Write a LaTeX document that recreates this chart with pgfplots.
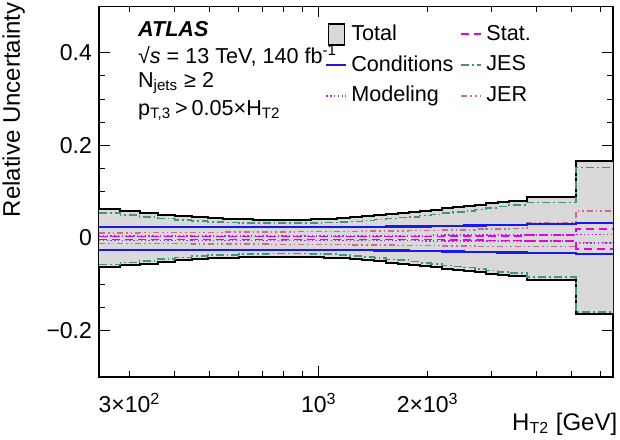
\documentclass[border=0pt]{standalone}
\usepackage{fontspec}
\setmainfont{Liberation Sans}
\usepackage{pgfplots}
\pgfplotsset{compat=1.18}
\usepackage{pgfplotstable}
\usepgfplotslibrary{fillbetween}

\definecolor{bandgray}{RGB}{217,217,217}
\definecolor{condblue}{RGB}{25,25,235}
\definecolor{modpurple}{RGB}{150,60,220}
\definecolor{statmag}{RGB}{230,0,230}
\definecolor{jesteal}{RGB}{60,150,130}
\definecolor{jerrose}{RGB}{200,110,140}

\newcommand\txtfont{\fontsize{10.8}{12}\selectfont}

\pgfplotsset{
  condline/.style={color=condblue, line width=1.15pt},
  modline/.style={color=modpurple, line width=0.8pt, dash pattern=on 0.7pt off 1.2pt},
  statline/.style={color=statmag, line width=0.8pt, dash pattern=on 4pt off 2.5pt},
  jesline/.style={color=jesteal, line width=0.8pt, dash pattern=on 4pt off 1.5pt on 0.9pt off 1.5pt},
  jerline/.style={color=jerrose, line width=0.8pt, dash pattern=on 3pt off 1.5pt on 0.8pt off 1.5pt on 0.8pt off 1.5pt},
  legline/.style={legend image code/.code={\draw[##1, line width=1pt] (0pt,0pt) -- (10pt,0pt);}},
  legbox/.style={legend image code/.code={\draw[black, fill=bandgray, line width=0.8pt] (1pt,-5.2pt) rectangle (9pt,5.2pt);}},
}

% Relative uncertainties per H_T2 bin (left bin edge in GeV; last row closes the final bin)
% tu/tl: total, ju/jl: JES, cu/cl: conditions, mu/ml: modeling, su/sl: stat., eu/el: JER
\pgfplotstableread{
x     tu     tl      ju     jl      cu     cl      mu     ml      su     sl      eu     el
247   0.062  -0.063  0.054  -0.057  0.024  -0.026  0.005  -0.005  0.003  -0.003  0.011  -0.012
283   0.058  -0.059  0.050  -0.053  0.024  -0.026  0.005  -0.005  0.003  -0.003  0.011  -0.012
320   0.054  -0.055  0.046  -0.049  0.024  -0.026  0.005  -0.005  0.003  -0.003  0.012  -0.012
360   0.050  -0.051  0.042  -0.045  0.024  -0.026  0.005  -0.005  0.003  -0.003  0.012  -0.012
400   0.047  -0.048  0.039  -0.042  0.024  -0.026  0.005  -0.005  0.003  -0.003  0.012  -0.012
445   0.045  -0.045  0.037  -0.039  0.024  -0.026  0.005  -0.005  0.003  -0.003  0.012  -0.013
493   0.043  -0.043  0.035  -0.037  0.024  -0.026  0.005  -0.005  0.003  -0.003  0.012  -0.013
545   0.042  -0.042  0.034  -0.036  0.024  -0.026  0.005  -0.005  0.003  -0.003  0.013  -0.013
600   0.041  -0.041  0.033  -0.035  0.024  -0.026  0.005  -0.005  0.003  -0.003  0.013  -0.013
660   0.040  -0.040  0.032  -0.034  0.024  -0.026  0.005  -0.005  0.003  -0.003  0.013  -0.013
725   0.040  -0.040  0.032  -0.033  0.024  -0.026  0.005  -0.005  0.003  -0.003  0.013  -0.014
795   0.040  -0.040  0.032  -0.033  0.024  -0.026  0.005  -0.005  0.003  -0.003  0.013  -0.014
870   0.040  -0.040  0.032  -0.033  0.024  -0.026  0.005  -0.005  0.003  -0.003  0.014  -0.014
950   0.041  -0.041  0.033  -0.034  0.024  -0.026  0.005  -0.005  0.003  -0.003  0.014  -0.014
1035  0.042  -0.042  0.034  -0.035  0.024  -0.026  0.005  -0.005  0.003  -0.003  0.014  -0.014
1125  0.043  -0.044  0.035  -0.037  0.024  -0.026  0.005  -0.005  0.003  -0.003  0.014  -0.014
1220  0.045  -0.046  0.036  -0.039  0.024  -0.026  0.005  -0.005  0.003  -0.003  0.014  -0.015
1320  0.047  -0.048  0.038  -0.041  0.024  -0.026  0.005  -0.005  0.003  -0.003  0.015  -0.015
1425  0.049  -0.050  0.040  -0.043  0.024  -0.027  0.005  -0.005  0.003  -0.003  0.015  -0.015
1535  0.052  -0.053  0.042  -0.046  0.025  -0.027  0.005  -0.005  0.003  -0.003  0.015  -0.015
1650  0.054  -0.055  0.044  -0.048  0.025  -0.027  0.005  -0.005  0.003  -0.003  0.015  -0.016
1770  0.056  -0.058  0.046  -0.051  0.025  -0.028  0.005  -0.005  0.003  -0.003  0.016  -0.016
1900  0.059  -0.061  0.049  -0.054  0.025  -0.028  0.005  -0.006  0.003  -0.003  0.016  -0.016
2040  0.061  -0.063  0.051  -0.056  0.026  -0.028  0.006  -0.006  0.003  -0.003  0.016  -0.016
2190  0.064  -0.066  0.054  -0.059  0.026  -0.029  0.006  -0.006  0.004  -0.004  0.017  -0.017
2350  0.066  -0.068  0.056  -0.061  0.026  -0.029  0.006  -0.006  0.004  -0.004  0.017  -0.017
2520  0.069  -0.071  0.059  -0.064  0.027  -0.030  0.006  -0.006  0.004  -0.004  0.018  -0.017
2700  0.072  -0.074  0.062  -0.067  0.027  -0.030  0.006  -0.006  0.004  -0.004  0.019  -0.018
2900  0.075  -0.077  0.065  -0.070  0.028  -0.030  0.006  -0.006  0.005  -0.005  0.020  -0.018
3120  0.078  -0.080  0.068  -0.073  0.028  -0.031  0.006  -0.006  0.005  -0.005  0.020  -0.018
3360  0.081  -0.083  0.071  -0.076  0.028  -0.031  0.006  -0.006  0.005  -0.005  0.021  -0.018
3760  0.089  -0.090  0.077  -0.084  0.030  -0.033  0.006  -0.007  0.006  -0.006  0.033  -0.018
5130  0.167  -0.165  0.152  -0.160  0.032  -0.034  0.008  -0.011  0.019  -0.023  0.058  -0.010
6500  0.167  -0.165  0.152  -0.160  0.032  -0.034  0.008  -0.011  0.019  -0.023  0.058  -0.010
}\unctable

\begin{document}
\begin{tikzpicture}
\begin{axis}[
  name=ax,
  scale only axis,
  width=257pt, height=185.25pt,
  xmode=log,
  xmin=247, xmax=6500,
  ymin=-0.3, ymax=0.5,
  axis line style={line width=0.6pt},
  tick align=inside,
  xtick pos=both, ytick pos=both,
  xticklabel pos=lower, yticklabel pos=left,
  major tick length=5.5pt, minor tick length=3pt,
  every tick/.style={black, line width=0.5pt},
  xtick={1000},
  xticklabels={10\textsuperscript{3}},
  minor xtick={400,500,600,700,800,900,3000,4000,5000,6000},
  extra x ticks={300,2000},
  extra x tick labels={3×10\textsuperscript{2}, 2×10\textsuperscript{3}},
  extra x tick style={major tick length=3pt},
  ytick={-0.2,0,0.2,0.4},
  yticklabels={−0.2,0,0.2,0.4},
  minor y tick num=3,
  tick label style={font=\fontsize{11.5}{13}\selectfont},
  xticklabel style={anchor=base, yshift=-18pt},
  xlabel={H\textsubscript{T2} [GeV]},
  xlabel style={at={(axis description cs:1,-0.1431)}, anchor=base east, inner sep=0pt, xshift=2.3pt, font=\fontsize{12}{14}\selectfont},
  ylabel={Relative Uncertainty},
  ylabel style={at={(axis description cs:-0.1537,1.012)}, anchor=base east, inner sep=0pt, font=\fontsize{12}{14}\selectfont},
  legend columns=2,
  legend cell align=left,
  legend style={at={(rel axis cs:0.4395,0.962)}, anchor=north west,
    draw=none, fill=none, inner sep=0pt, font=\txtfont,
    row sep=2pt,
    /tikz/every even column/.append style={column sep=1.5pt}},
]
% legend entries
\addlegendimage{legbox}
\addlegendentry{Total}
\addlegendimage{legline, statline}
\addlegendentry{Stat.}
\addlegendimage{legline, condline}
\addlegendentry{Conditions}
\addlegendimage{legline, jesline}
\addlegendentry{JES}
\addlegendimage{legline, modline}
\addlegendentry{Modeling}
\addlegendimage{legline, jerline}
\addlegendentry{JER}

% total uncertainty band
\addplot[name path=totup, const plot, draw=none, forget plot] table[x=x, y=tu] {\unctable};
\addplot[name path=totlo, const plot, draw=none, forget plot] table[x=x, y=tl] {\unctable};
\addplot[fill=bandgray, draw=none, forget plot] fill between[of=totup and totlo];
\addplot[const plot, black, line width=1pt, forget plot] table[x=x, y=tu] {\unctable};
\addplot[const plot, black, line width=1pt, forget plot] table[x=x, y=tl] {\unctable};

% individual components
\addplot[const plot, jesline, forget plot] table[x=x, y=ju] {\unctable};
\addplot[const plot, jesline, forget plot] table[x=x, y=jl] {\unctable};
\addplot[const plot, jerline, forget plot] table[x=x, y=eu] {\unctable};
\addplot[const plot, jerline, forget plot] table[x=x, y=el] {\unctable};
\addplot[const plot, modline, forget plot] table[x=x, y=mu] {\unctable};
\addplot[const plot, modline, forget plot] table[x=x, y=ml] {\unctable};
\addplot[const plot, statline, forget plot] table[x=x, y=su] {\unctable};
\addplot[const plot, statline, forget plot] table[x=x, y=sl] {\unctable};
\addplot[const plot, condline, forget plot] table[x=x, y=cu] {\unctable};
\addplot[const plot, condline, forget plot] table[x=x, y=cl] {\unctable};

% labels
\node[anchor=base west, font=\fontsize{10.8}{12}\selectfont\bfseries\itshape] at (rel axis cs:0.0623,0.918) {ATLAS};
\node[anchor=base west, font=\txtfont] at (rel axis cs:0.0623,0.847) {√\textit{s} = 13 TeV, 140 fb\textsuperscript{-1}};
\node[anchor=base west, font=\txtfont] at (rel axis cs:0.0623,0.782) {N\textsubscript{jets} ≥ 2};
\node[anchor=base west, font=\txtfont] at (rel axis cs:0.0623,0.707) {p\textsubscript{T,3}\hspace{0.18em}>\hspace{0.18em}0.05×H\textsubscript{T2}};
\end{axis}
\pgfresetboundingbox
\path ([xshift=-49.5pt,yshift=-31.5pt]ax.south west) rectangle ([xshift=3.5pt,yshift=3.25pt]ax.north east);
\end{tikzpicture}
\end{document}
